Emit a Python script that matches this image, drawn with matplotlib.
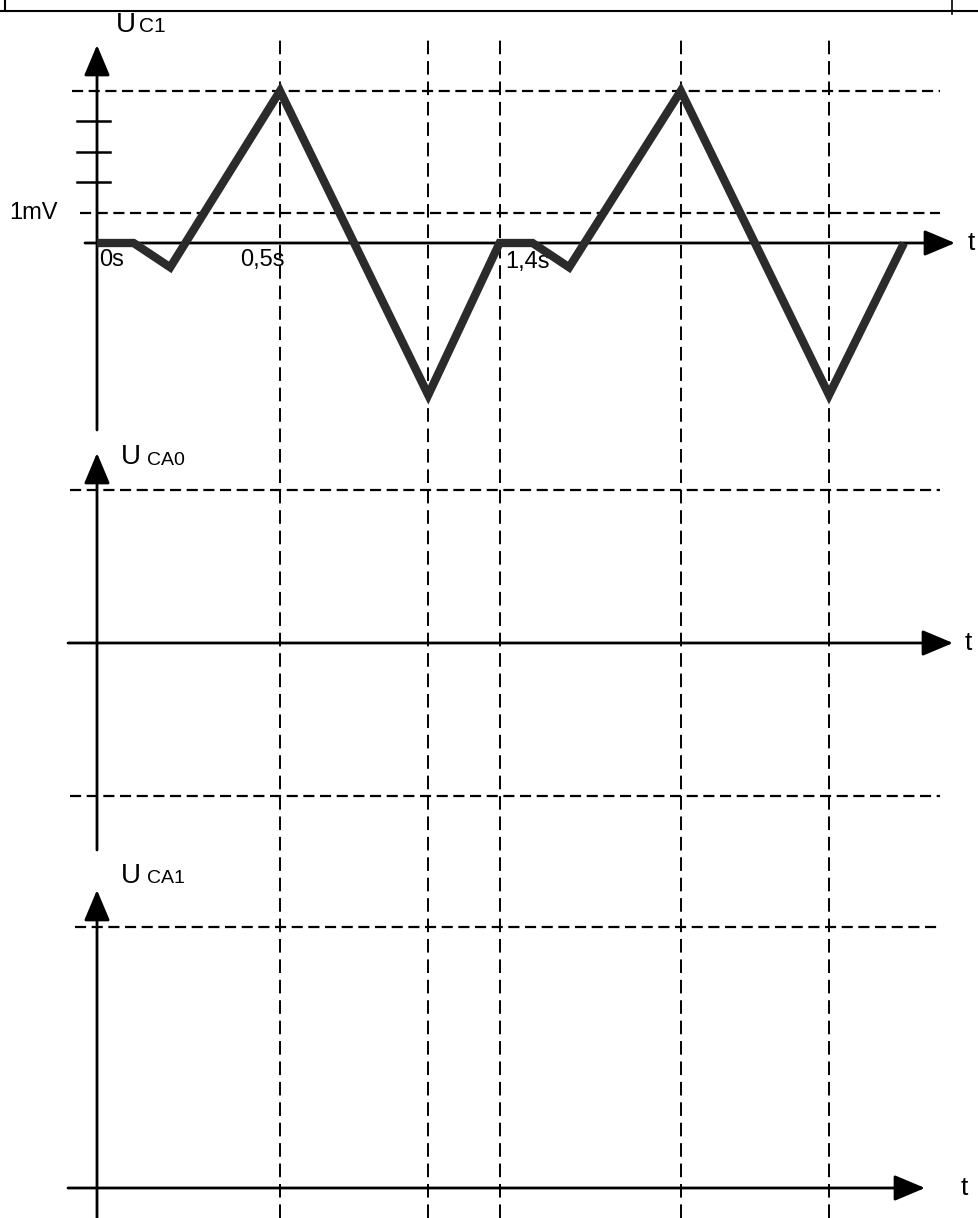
import matplotlib
matplotlib.use("Agg")
import matplotlib.pyplot as plt

# ---------------- data ----------------
# U_C1 waveform (time in s on a schematic scale, voltage in mV)
t_uc1 = [0.0, 0.10, 0.20, 0.50, 0.905, 1.10, 1.19, 1.29, 1.595, 2.00, 2.205]
u_uc1 = [0.0, 0.0, -0.8, 5.0, -5.0, 0.0, 0.0, -0.8, 5.0, -5.0, 0.0]
# vertical guide lines (time instants)
t_guides = [0.50, 0.905, 1.10, 1.595, 2.00]
# horizontal guide levels per panel
uc1_levels = [5.0, 1.0]
uc1_ticks = [2.0, 3.0, 4.0]
uca0_levels = [1.0, -1.0]
uca1_levels = [1.0]
time_labels = ["0s", "0,5s", "1,4s"]
time_label_pos = [0.005, 0.39, 1.115]
time_label_top = [-0.2, -0.2, -0.25]

# ---------------- layout ----------------
W, H = 979, 1218
fig = plt.figure(figsize=(W / 100, H / 100), dpi=100)
plt.rcParams['font.family'] = ['Liberation Sans', 'DejaVu Sans']

PX_PER_S = 366.0
X0 = 97.0
xlim = ((0 - X0) / PX_PER_S, (W - X0) / PX_PER_S)

def make_ax(axis_px, px_per_unit):
    ax = fig.add_axes([0, 0, 1, 1])
    ax.set_xlim(*xlim)
    ax.set_ylim(-(H - axis_px) / px_per_unit, axis_px / px_per_unit)
    ax.axis('off')
    ax.patch.set_alpha(0)
    return ax

ax1 = make_ax(243.0, 30.4)   # U_C1
ax2 = make_ax(643.0, 153.0)  # U_CA0
ax3 = make_ax(1188.0, 261.0) # U_CA1

def tx(px):
    return (px - X0) / PX_PER_S

def fy(py):
    return 1 - py / H

K = 'black'
dash = (0, (5, 2.5))

# top border of the page/table
fig.add_artist(plt.Line2D([0, 1], [fy(11), fy(11)], color=K, lw=1.5))
fig.add_artist(plt.Line2D([5 / W, 5 / W], [fy(0), fy(11)], color=K, lw=1.5))
fig.add_artist(plt.Line2D([952 / W, 952 / W], [fy(0), fy(14)], color=K, lw=1.2))

# vertical dashed guides spanning all panels
for tg in t_guides:
    ax1.axvline(tg, ymin=0, ymax=fy(36), color=K, lw=1.4, linestyle=(0, (7, 3.5)))

# ---- panel 1: U_C1 ----
for lv in uc1_levels:
    x_start = tx(72) if lv == uc1_levels[0] else tx(80)
    ax1.plot([x_start, tx(940)], [lv, lv], color=K, lw=1.6, linestyle=dash)
for tk in uc1_ticks:
    ax1.plot([tx(77), tx(110)], [tk, tk], color=K, lw=1.8)

arrow = dict(arrowstyle='-|>,head_length=0.95,head_width=0.4', color=K, lw=2.0,
             mutation_scale=20, shrinkA=0, shrinkB=0)

# axes of panel 1
ax1.annotate('', xy=(0, (243 - 45) / 30.4), xytext=(0, -(430 - 243) / 30.4), arrowprops=arrow)
ax1.annotate('', xy=(tx(955), 0), xytext=(tx(85), 0), arrowprops=arrow)

ax1.plot(t_uc1, u_uc1, color='#2b2b2b', lw=6.0, solid_joinstyle='miter',
         solid_capstyle='butt', zorder=5)

ax1.text(tx(9), 1.0, "1mV", fontsize=17, ha='left', va='center')
for lab, pos, top in zip(time_labels, time_label_pos, time_label_top):
    ax1.text(pos, top, lab, fontsize=17, ha='left', va='top')
ax1.text(tx(968), 0, "t", fontsize=19, ha='left', va='center')
fig.text(116 / W, fy(32), "U", fontsize=20, ha='left', va='baseline')
fig.text(139 / W, fy(32), "C1", fontsize=15, ha='left', va='baseline')

# ---- panel 2: U_CA0 ----
for lv in uca0_levels:
    ax2.plot([tx(70), tx(940)], [lv, lv], color=K, lw=1.6, linestyle=dash)
ax2.annotate('', xy=(0, (643 - 453) / 153.0), xytext=(0, -(850 - 643) / 153.0), arrowprops=arrow)
ax2.annotate('', xy=(tx(953), 0), xytext=(tx(68), 0), arrowprops=arrow)
ax2.text(tx(965), 0, "t", fontsize=19, ha='left', va='center')
fig.text(121 / W, fy(464), "U", fontsize=20, ha='left', va='baseline')
fig.text(147 / W, fy(465), "CA0", fontsize=14, ha='left', va='baseline')

# ---- panel 3: U_CA1 ----
for lv in uca1_levels:
    ax3.plot([tx(75), tx(940)], [lv, lv], color=K, lw=1.6, linestyle=dash)
ax3.annotate('', xy=(0, (1188 - 890) / 261.0), xytext=(0, -(1218 - 1188) / 261.0 - 0.05), arrowprops=arrow)
ax3.annotate('', xy=(tx(925), 0), xytext=(tx(68), 0), arrowprops=arrow)
ax3.text(tx(961), 0, "t", fontsize=19, ha='left', va='center')
fig.text(121 / W, fy(883), "U", fontsize=20, ha='left', va='baseline')
fig.text(147 / W, fy(883), "CA1", fontsize=14, ha='left', va='baseline')

fig.savefig("out.png", dpi=100)
